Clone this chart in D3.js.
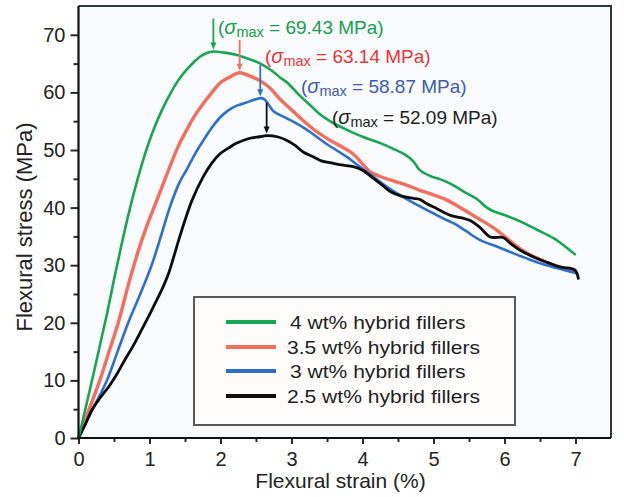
<!DOCTYPE html>
<html>
<head>
<meta charset="utf-8">
<script src="https://cdn.jsdelivr.net/npm/d3@7/dist/d3.min.js"></script>
<style>
  html, body { margin: 0; padding: 0; background: #ffffff; }
  svg { display: block; font-family: "Liberation Sans", Arial, Helvetica, sans-serif; }
</style>
</head>
<body>
<svg id="chart" width="624" height="497"></svg>
<script>
// ---------------- DATA ----------------
const seriesNames = ["4 wt% hybrid fillers", "3.5 wt% hybrid fillers", "3 wt% hybrid fillers", "2.5 wt% hybrid fillers"];
const sigmaMax = [69.43, 63.14, 58.87, 52.09];

const green4 = [[0,0],[0.1,5.2],[0.2,10.5],[0.3,16],[0.4,21.5],[0.5,27.5],[0.6,33.2],[0.7,38.6],[0.83,44.8],[0.95,49.8],[1.05,53.3],[1.17,56.8],[1.29,59.7],[1.4,62],[1.52,63.9],[1.62,65.2],[1.71,66.2],[1.8,66.8],[1.9,67.1],[2.05,66.9],[2.23,66.5],[2.4,65.8],[2.56,65.0],[2.72,63.8],[2.84,62.6],[2.95,61.6],[3.12,59.4],[3.26,57.8],[3.4,56.2],[3.6,54.6],[3.78,53.5],[4.0,52.3],[4.25,51.2],[4.45,50.1],[4.6,49.2],[4.72,48.0],[4.8,46.6],[4.95,45.5],[5.1,44.9],[5.23,44.2],[5.45,42.6],[5.62,41.4],[5.72,40.3],[5.82,39.5],[6.0,38.7],[6.22,37.6],[6.45,36.2],[6.69,34.7],[6.85,33.3],[6.99,31.9]];

const red35 = [[0,0],[0.15,5],[0.3,10],[0.43,15],[0.56,20],[0.7,26.5],[0.84,32.4],[0.95,36.4],[1.05,39.6],[1.17,43.4],[1.29,47.2],[1.4,50.5],[1.52,53.4],[1.64,56],[1.76,58.1],[1.88,60],[1.99,61.6],[2.12,62.6],[2.27,63.4],[2.4,62.9],[2.56,62.0],[2.7,60.7],[2.84,58.8],[2.98,57.2],[3.12,55.6],[3.31,53.6],[3.54,51.7],[3.7,50.6],[3.87,49.3],[4.0,47.6],[4.1,46.3],[4.25,45.4],[4.39,44.8],[4.6,44.0],[4.81,43.0],[5.0,42.2],[5.19,41.3],[5.35,40.2],[5.51,39.0],[5.7,37.6],[5.89,36.1],[6.0,35.0],[6.12,33.8],[6.24,32.7],[6.36,31.8],[6.5,31.0],[6.7,30.0],[6.85,29.4],[7.0,28.7]];

const blue3 = [[0,0],[0.2,5],[0.4,10],[0.55,15],[0.7,20],[0.87,25],[1.03,30],[1.16,35],[1.29,40.2],[1.42,44.3],[1.52,46.5],[1.64,49.3],[1.76,51.7],[1.88,53.9],[1.99,55.6],[2.1,56.8],[2.23,57.7],[2.4,58.4],[2.56,59.0],[2.62,58.8],[2.68,57.8],[2.74,56.8],[2.8,56.3],[2.9,55.7],[3.03,54.9],[3.17,53.9],[3.31,52.7],[3.5,51.0],[3.78,48.8],[3.95,47.2],[4.15,45.4],[4.3,44.0],[4.48,42.5],[4.65,41.3],[4.81,40.2],[5.0,39.0],[5.19,37.8],[5.28,37.3],[5.45,36.0],[5.65,34.4],[5.9,33.2],[6.12,32.1],[6.35,31.0],[6.59,30.0],[6.8,29.3],[7.02,28.6]];

const black25 = [[0,0],[0.1,2.5],[0.19,4.9],[0.3,6.9],[0.42,8.8],[0.55,11.3],[0.65,13.5],[0.77,16.0],[0.89,18.8],[1.0,21.4],[1.08,23.4],[1.19,26.2],[1.27,28.6],[1.34,31.4],[1.41,34.3],[1.5,37.8],[1.6,41.3],[1.75,45.2],[1.87,47.6],[1.99,49.3],[2.12,50.4],[2.23,51.2],[2.4,52.0],[2.55,52.3],[2.65,52.5],[2.8,52.3],[2.93,51.7],[3.05,50.8],[3.17,49.6],[3.31,48.8],[3.42,48.1],[3.54,47.8],[3.7,47.4],[3.87,47.1],[4.0,46.5],[4.15,45.1],[4.27,44.0],[4.39,42.8],[4.55,42.0],[4.72,41.6],[4.81,41.4],[4.9,40.7],[5.05,39.8],[5.23,38.7],[5.4,38.2],[5.51,37.8],[5.65,36.6],[5.8,34.9],[5.98,34.8],[6.1,33.6],[6.22,32.6],[6.45,31.2],[6.6,30.5],[6.78,29.7],[6.99,29.2],[7.04,27.7]];

const xTicks = [0,1,2,3,4,5,6,7];
const xMinorTicks = [0.5,1.5,2.5,3.5,4.5,5.5,6.5];
const yTicks = [0,10,20,30,40,50,60,70];
const yMinorTicks = [5,15,25,35,45,55,65];
const xTitle = "Flexural strain (%)";
const yTitle = "Flexural stress (MPa)";

// ---------------- LAYOUT / STYLE ----------------
const curveColors = ["#17a556", "#f36e5e", "#2d6fca", "#0d0d0d"];
const curveWidths = [2.6, 3.4, 2.6, 2.8];
const textColors = ["#16a04c", "#e8363a", "#3b5dab", "#1e1e1e"];
const labelPos = [[218, 34], [265, 63], [301, 93], [332, 124]];
const legendBox = {x: 194, y: 297, w: 321, h: 128};
const legendRows = [322, 347, 371, 396];

const svg = d3.select("#chart");
const x = d3.scaleLinear().domain([0, 7.5]).range([78.5, 611]);
const y = d3.scaleLinear().domain([0, 75]).range([438, 6]);

// plot background
svg.append("rect")
  .attr("x", x(0)).attr("y", y(75))
  .attr("width", x(7.5) - x(0)).attr("height", y(0) - y(75))
  .attr("fill", "#f9fafc");

// top/right frame
svg.append("path")
  .attr("d", `M${x(0)},${y(75)}H${x(7.5)}V${y(0)}`)
  .attr("fill", "none").attr("stroke", "#2b3a3f").attr("stroke-width", 2);

// curves
const line = d3.line().x(d => x(d[0])).y(d => y(d[1])).curve(d3.curveCatmullRom.alpha(0.5));
const allSeries = [green4, red35, blue3, black25];
[red35, blue3, black25, green4].forEach(s => {
  const i = allSeries.indexOf(s);
  svg.append("path")
    .attr("d", line(s))
    .attr("fill", "none")
    .attr("stroke", curveColors[i])
    .attr("stroke-width", curveWidths[i])
    .attr("stroke-linejoin", "round")
    .attr("stroke-linecap", "round");
});

// axes
const tickColor = "#2a2a2a";
const xAxis = svg.append("g").attr("transform", `translate(0,${y(0)})`)
  .call(d3.axisBottom(x).tickValues(xTicks).tickFormat(d3.format("d")).tickSize(6).tickSizeOuter(0).tickPadding(8));
const xMinor = svg.append("g").attr("transform", `translate(0,${y(0)})`)
  .call(d3.axisBottom(x).tickValues(xMinorTicks).tickFormat("").tickSize(4).tickSizeOuter(0));
const yAxis = svg.append("g").attr("transform", `translate(${x(0)},0)`)
  .call(d3.axisLeft(y).tickValues(yTicks).tickFormat(d3.format("d")).tickSize(8).tickSizeOuter(0).tickPadding(5));
const yMinor = svg.append("g").attr("transform", `translate(${x(0)},0)`)
  .call(d3.axisLeft(y).tickValues(yMinorTicks).tickFormat("").tickSize(5).tickSizeOuter(0));

[xAxis, xMinor, yAxis, yMinor].forEach(g => {
  g.select(".domain").remove();
  g.selectAll(".tick line").attr("stroke", tickColor).attr("stroke-width", 2);
  g.selectAll(".tick text").attr("fill", "#222").attr("font-size", 20)
    .attr("font-family", "'Liberation Sans', Arial, Helvetica, sans-serif");
});

// axis lines left/bottom
svg.append("path")
  .attr("d", `M${x(0)},${y(75)}V${y(0)}H${x(7.5)}`)
  .attr("fill", "none").attr("stroke", "#111").attr("stroke-width", 2.2);

// axis titles
svg.append("text")
  .attr("x", 340.5).attr("y", 488)
  .attr("text-anchor", "middle").attr("font-size", 21).attr("fill", "#222")
  .text(xTitle);
svg.append("text")
  .attr("transform", "translate(32,227) rotate(-90)")
  .attr("text-anchor", "middle").attr("font-size", 22).attr("fill", "#222")
  .text(yTitle);

// peak arrows + labels
allSeries.forEach((s, i) => {
  const peak = s.reduce((a, b) => (b[1] > a[1] ? b : a));
  const px = x(peak[0]), py = y(peak[1]);
  const top = py - 33, tip = py - 2;
  svg.append("line")
    .attr("x1", px).attr("x2", px).attr("y1", top).attr("y2", tip - 5)
    .attr("stroke", curveColors[i]).attr("stroke-width", 1.8);
  svg.append("path")
    .attr("d", `M${px - 3},${tip - 7}L${px + 3},${tip - 7}L${px},${tip}Z`)
    .attr("fill", curveColors[i]);

  const t = svg.append("text")
    .attr("x", labelPos[i][0]).attr("y", labelPos[i][1])
    .attr("font-size", 19).attr("fill", textColors[i]);
  t.append("tspan").text("(");
  t.append("tspan").attr("font-style", "italic").attr("font-size", 20).text("σ");
  t.append("tspan").attr("font-size", 14.5).attr("dy", 3).text("max");
  t.append("tspan").attr("dy", -3).text(" = " + sigmaMax[i].toFixed(2) + " MPa)");
});

// legend
svg.append("rect")
  .attr("x", legendBox.x).attr("y", legendBox.y)
  .attr("width", legendBox.w).attr("height", legendBox.h)
  .attr("fill", "#fdfcfb").attr("stroke", "#595959").attr("stroke-width", 2);

seriesNames.forEach((name, i) => {
  const ry = legendRows[i];
  svg.append("line")
    .attr("x1", 226).attr("x2", 276).attr("y1", ry).attr("y2", ry)
    .attr("stroke", curveColors[i]).attr("stroke-width", 4);
  svg.append("g")
    .attr("transform", `translate(${name.startsWith("3.5") || name.startsWith("2.5") ? 287 : 290},${ry + 6.5}) scale(1.17,1)`)
    .append("text")
    .attr("font-size", 18).attr("fill", "#1e1e1e")
    .text(name);
});
</script>
</body>
</html>
